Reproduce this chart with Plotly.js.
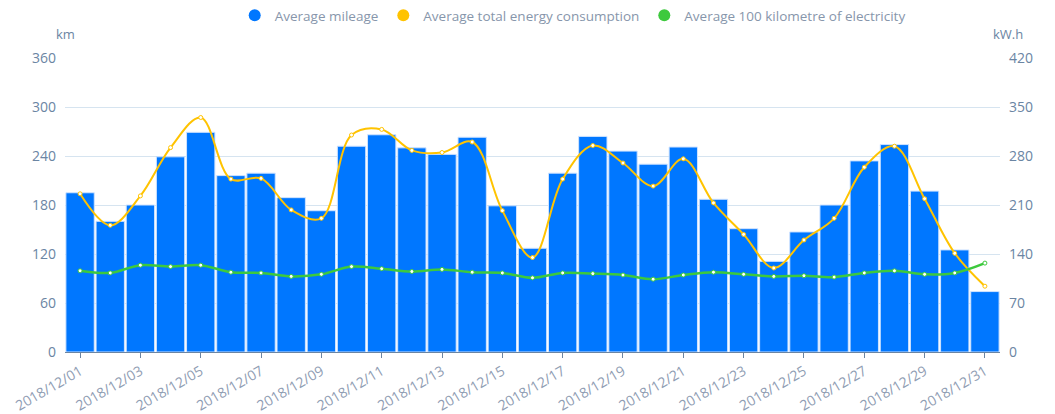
<!DOCTYPE html>
<html>
<head>
<meta charset="utf-8">
<script src="https://cdn.plot.ly/plotly-3.0.1.min.js"></script>
<style>html,body{margin:0;padding:0;background:#fff;}#chart{width:1055px;height:414px;}</style>
</head>
<body>
<div id="chart"></div>
<script>
const dates = ["2018/12/01","2018/12/02","2018/12/03","2018/12/04","2018/12/05","2018/12/06","2018/12/07","2018/12/08","2018/12/09","2018/12/10","2018/12/11","2018/12/12","2018/12/13","2018/12/14","2018/12/15","2018/12/16","2018/12/17","2018/12/18","2018/12/19","2018/12/20","2018/12/21","2018/12/22","2018/12/23","2018/12/24","2018/12/25","2018/12/26","2018/12/27","2018/12/28","2018/12/29","2018/12/30","2018/12/31"];
const mileage = [195,160,180,239,269,216,219,189,173,252,266,250,242,263,179,127,219,264,246,230,251,187,151,111,147,180,234,254,197,125,74];
const energy = [226,181,223,292,335,247,248,203,191,310,318,288,285,300,202,135,247,295,270,237,276,213,168,120,160,191,264,294,219,141,94];
const per100 = [116,113,124,122,124,114,113,108,111,122,119,115,118,114,113,106,113,112,110,104,110,114,111,108,109,107,113,116,111,113,127];
const leftTicks = [0,60,120,180,240,300,360];
const rightTicks = [0,70,140,210,280,350,420];
const names = ["Average mileage","Average total energy consumption","Average 100 kilometre of electricity"];
const colors = ["#0077FF","#FFC300","#3DC93D"];
const tickDates = dates.filter((d,i)=>i%2===0);

const fam = "Open Sans, Noto Sans, sans-serif";
const axisFont = {family:fam, size:14, color:"#6b85a3"};
const traces = [
  {type:"bar", x:dates, y:mileage, name:names[0], showlegend:false,
   marker:{color:colors[0], line:{color:"#cfe3ff", width:1}}, hoverinfo:"x+y"},
  {type:"scatter", mode:"lines+markers", x:dates, y:energy, yaxis:"y2", name:names[1], showlegend:false,
   line:{color:colors[1], width:2, shape:"spline", smoothing:1},
   marker:{size:4, color:"#fff", line:{color:colors[1], width:1}}},
  {type:"scatter", mode:"lines+markers", x:dates, y:per100, yaxis:"y2", name:names[2], showlegend:false,
   line:{color:colors[2], width:2.5, shape:"spline", smoothing:1},
   marker:{size:4, color:"#fff", line:{color:colors[2], width:1}}}
];
names.forEach((n,i)=>{
  traces.push({type:"scatter", mode:"markers", x:[dates[0]], y:[null], name:n, showlegend:true,
    marker:{symbol:"circle", size:12, color:colors[i]}, hoverinfo:"skip"});
});

const layout = {
  width:1055, height:414,
  margin:{l:65, r:55, t:58, b:62},
  paper_bgcolor:"#fff", plot_bgcolor:"#fff",
  bargap:0.06,
  showlegend:true,
  legend:{orientation:"h", x:0.543, xanchor:"center", y:1.0, yanchor:"top",
    yref:"container", font:{family:fam, size:13.5, color:"#8796ab"},
    itemsizing:"trace", itemwidth:20, tracegroupgap:0, bgcolor:"rgba(0,0,0,0)"},
  xaxis:{type:"category", categoryorder:"array", categoryarray:dates, automargin:false,
    range:[-0.5, dates.length-0.5],
    tickmode:"array", tickvals:tickDates, ticktext:tickDates, tickangle:-30,
    ticks:"outside", ticklen:5, tickcolor:"#6b85a3",
    showline:true, linecolor:"#6b85a3", linewidth:1, showgrid:false,
    tickfont:{family:fam, size:14, color:"#8f9db3"}},
  yaxis:{range:[0,360], automargin:false, tickmode:"array", tickvals:leftTicks, ticktext:leftTicks.map(String),
    ticklabelstandoff:8,
    showgrid:true, gridcolor:"#d6e4f0", zeroline:false, showline:false, ticks:"", tickfont:axisFont},
  yaxis2:{range:[0,420], automargin:false, overlaying:"y", side:"right", tickmode:"array", tickvals:rightTicks,
    ticklabelstandoff:8,
    ticktext:rightTicks.map(String), showgrid:false, zeroline:false, showline:false, ticks:"", tickfont:axisFont},
  annotations:[
    {text:"km", xref:"paper", yref:"paper", x:0, y:1.045, xanchor:"center", yanchor:"bottom", showarrow:false,
     font:{family:fam, size:13, color:"#6b85a3"}},
    {text:"kW.h", xref:"paper", yref:"paper", x:1, y:1.045, xanchor:"center", yanchor:"bottom", showarrow:false,
     xshift:8, font:{family:fam, size:13, color:"#6b85a3"}}
  ]
};
Plotly.newPlot("chart", traces, layout, {displayModeBar:false, staticPlot:true});
</script>
</body>
</html>
